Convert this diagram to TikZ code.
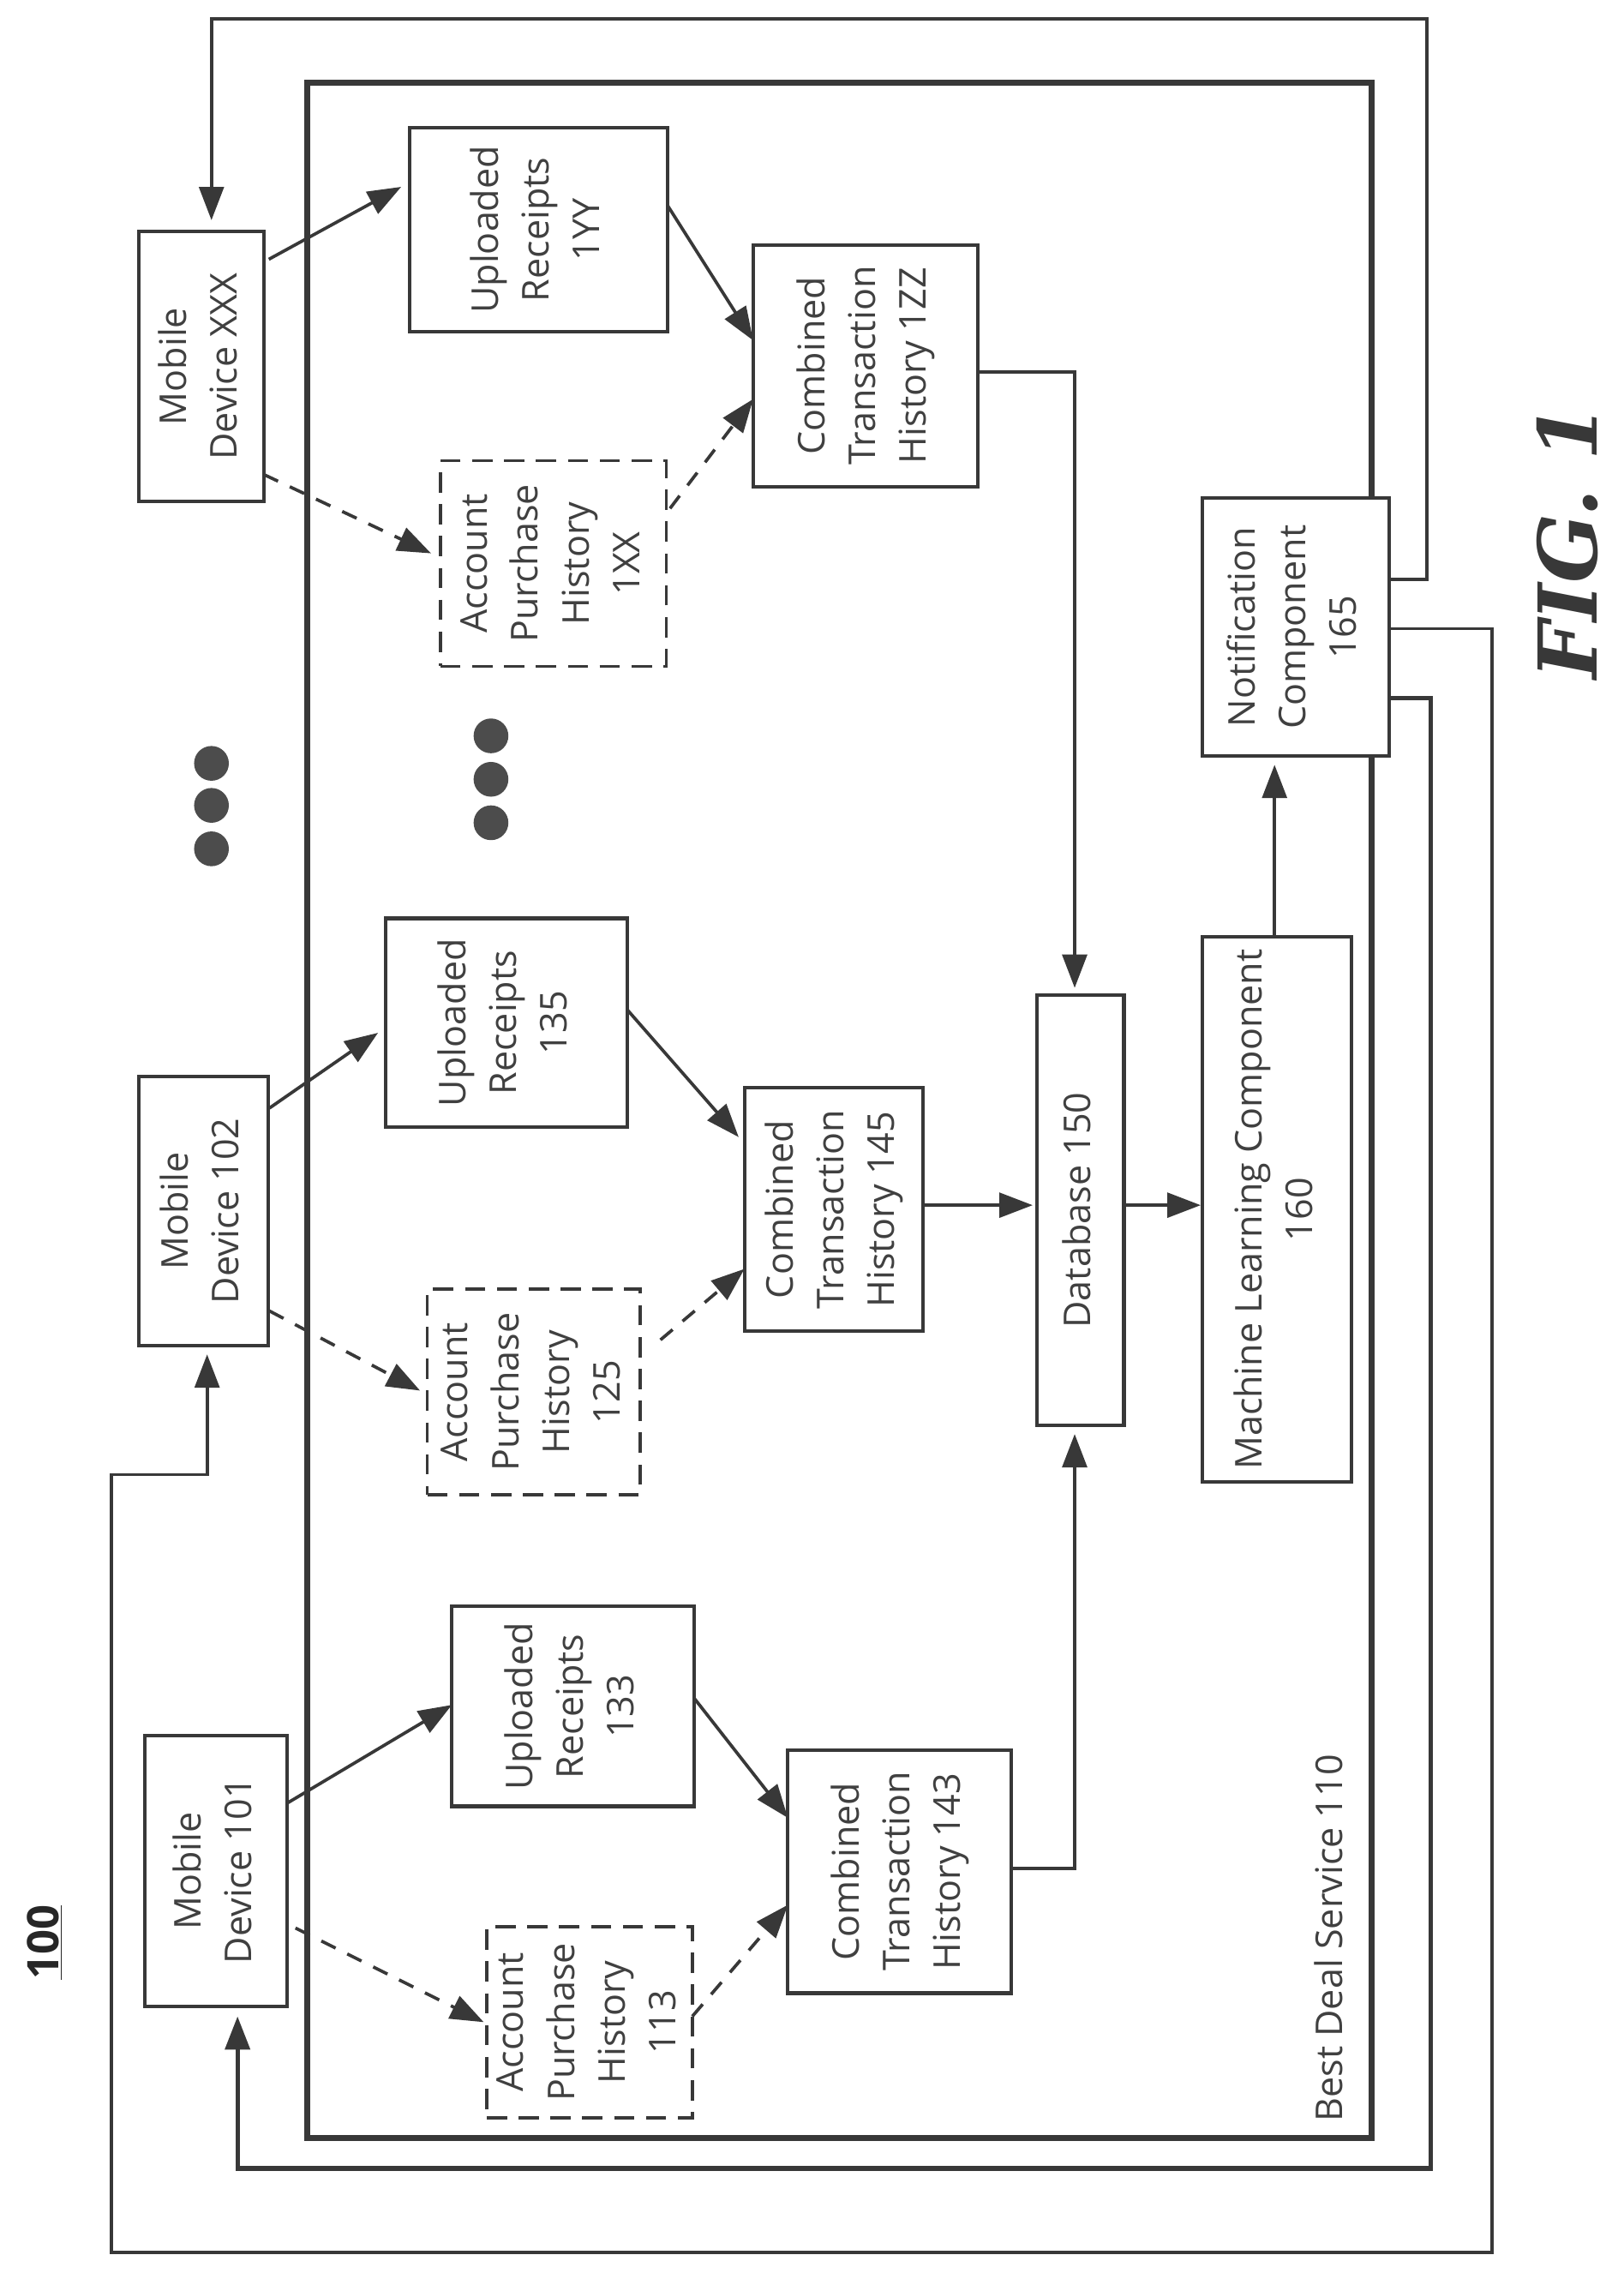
\documentclass[tikz,border=0pt]{standalone}
\usepackage{fontspec}
\usepackage{graphicx}
\setmainfont{Open Sans}
\newfontfamily\figfont[BoldItalicFont={DejaVu Serif Bold Italic}]{DejaVu Serif}
\usetikzlibrary{arrows.meta,calc}
\definecolor{ink}{gray}{0.22}
\definecolor{txt}{gray}{0.25}
\newcommand{\rtext}[1]{\rotatebox{90}{\fontsize{25.5}{35}\selectfont\begin{tabular}{@{}c@{}}#1\end{tabular}}}
\tikzset{
  x=1pt,y=-1pt,
  box/.style={draw=ink,line width=2.4pt,fill=white,inner sep=0pt,outer sep=0pt,text=txt},
  dashbox/.style={box,line width=2.2pt,dash pattern=on 14pt off 8pt},
  outerbox/.style={draw=ink,line width=4pt,inner sep=0pt,outer sep=0pt},
  wire/.style={draw=ink,line width=2.2pt,-{Triangle[length=23pt,width=17pt,fill=ink]}},
  dashwire/.style={wire,dash pattern=on 11pt off 9pt},
  heavywire/.style={wire,line width=3pt},
  dotmark/.style={circle,fill=ink!90,minimum size=24pt,inner sep=0pt},
  lab/.style={inner sep=0pt,text=txt},
}
\begin{document}
\begin{tikzpicture}
\useasboundingbox (0,0) rectangle (1120.7,1569.2);
\node[outerbox,minimum width=735pt,minimum height=1419pt] (svc) at (579.5,766.5) {};
\node[lab] (svclab) at (920,1338) {\rtext{Best Deal Service 110}};
\node[box,minimum width=86pt,minimum height=186pt] (xxx) at (139,253) {\rtext{Mobile\\Device XXX}};
\node[box,minimum width=89pt,minimum height=186pt] (dtwo) at (140.5,836) {\rtext{Mobile\\Device 102}};
\node[box,minimum width=98pt,minimum height=187pt] (done) at (149,1291.5) {\rtext{Mobile\\Device 101}};
\node[box,minimum width=178pt,minimum height=141pt] (uryy) at (372,158.5) {\rtext{Uploaded\\Receipts\\1YY}};
\node[dashbox,minimum width=156pt,minimum height=142pt] (aphxx) at (382,389) {\rtext{Account\\Purchase\\History\\1XX}};
\node[box,minimum width=155pt,minimum height=167pt] (cthzz) at (597.5,252.5) {\rtext{Combined\\Transaction\\History 1ZZ}};
\node[box,minimum width=167pt,minimum height=144pt] (urb) at (349.5,706) {\rtext{Uploaded\\Receipts\\135}};
\node[dashbox,minimum width=147pt,minimum height=142pt] (aphb) at (368.5,961) {\rtext{Account\\Purchase\\History\\125}};
\node[box,minimum width=123pt,minimum height=168pt] (cthb) at (575.5,835) {\rtext{Combined\\Transaction\\History 145}};
\node[box,minimum width=167pt,minimum height=138pt] (ura) at (395.5,1178) {\rtext{Uploaded\\Receipts\\133}};
\node[dashbox,minimum width=142pt,minimum height=132pt] (apha) at (407,1396) {\rtext{Account\\Purchase\\History\\113}};
\node[box,minimum width=154pt,minimum height=168pt] (ctha) at (621,1292) {\rtext{Combined\\Transaction\\History 143}};
\node[box,minimum width=60pt,minimum height=297pt] (db) at (746,835.5) {\rtext{Database 150}};
\node[box,minimum width=103pt,minimum height=376pt] (ml) at (881.5,835) {\rtext{Machine Learning Component\\160}};
\node[box,minimum width=129pt,minimum height=178pt] (notif) at (894.5,433) {\rtext{Notification\\Component\\165}};
\node[lab,text=black!85] (hundred) at (31,1341) {\rotatebox{90}{\fontsize{30}{34}\selectfont\bfseries\underline{100}}};
\node[lab,text=ink] (fig) at (1082,374) {\rotatebox{90}{\fontsize{56}{60}\figfont\bfseries\itshape FIG. 1}};
\node[dotmark] (da) at (146,527) {};
\node[dotmark] (db2) at (146,556) {};
\node[dotmark] (dc) at (146,586) {};
\node[dotmark] (dd) at (339,508) {};
\node[dotmark] (de) at (339,538) {};
\node[dotmark] (df) at (339,568) {};
% device to inputs
\draw[wire] ([shift={(3.6,-74)}]xxx.east) -- ([shift={(-6,-29.5)}]uryy.west);
\draw[dashwire] ([shift={(0,74.5)}]xxx.east) -- ([shift={(-6.4,-7)}]aphxx.west);
\draw[wire] ([shift={(0,-16.5)}]uryy.east) -- ([shift={(0,-17.5)}]cthzz.west);
\draw[dashwire] ([shift={(2.6,-38)}]aphxx.east) -- ([shift={(0,23)}]cthzz.west);
\draw[wire] ([shift={(1,-71)}]dtwo.east) -- ([shift={(-5,7)}]urb.west);
\draw[dashwire] ([shift={(1,69)}]dtwo.east) -- ([shift={(-5,-1)}]aphb.west);
\draw[wire] ([shift={(0,-9)}]urb.east) -- ([shift={(-4,-50)}]cthb.west);
\draw[dashwire] ([shift={(14,-36)}]aphb.east) -- ([shift={(0,41)}]cthb.west);
\draw[wire] ([shift={(0,-46.5)}]done.east) -- ([shift={(0,-1)}]ura.west);
\draw[dashwire] ([shift={(6,39.5)}]done.east) -- ([shift={(-2,0)}]apha.west);
\draw[wire] ([shift={(0,-6)}]ura.east) -- ([shift={(0,-37)}]ctha.west);
\draw[dashwire] ([shift={(0,-4)}]apha.east) -- ([shift={(0,23)}]ctha.west);
% to database and onward
\draw[wire] ([shift={(0,4.5)}]cthzz.east) -| ([shift={(-4,-5)}]db.north);
\draw[wire] ([shift={(0,-2)}]ctha.east) -| ([shift={(-4,6)}]db.south);
\draw[wire] ([shift={(0,-3)}]cthb.east) -- ([shift={(-3,-3.5)}]db.west);
\draw[wire] ([shift={(0,-3.5)}]db.east) -- ([shift={(-1,-3)}]ml.west);
\draw[wire] ([shift={(-1.5,0)}]ml.north) -- ([shift={(-14.5,6)}]notif.south);
% notifications
\draw[wire] ([shift={(0,-33)}]notif.east) -- ++(26,0) -- ++(0,-387) -| ([shift={(7,-8)}]xxx.north);
\draw[wire] ([shift={(0,1)}]notif.east) -- ++(71,0) -- ++(0,1121) -- ++(-953,0) -- ++(0,-537) -| ([shift={(2.5,6)}]dtwo.south);
\draw[heavywire] ([shift={(0,49)}]notif.east) -- ++(29,0) -- ++(0,1015) -| ([shift={(15,7)}]done.south);
\end{tikzpicture}
\end{document}
